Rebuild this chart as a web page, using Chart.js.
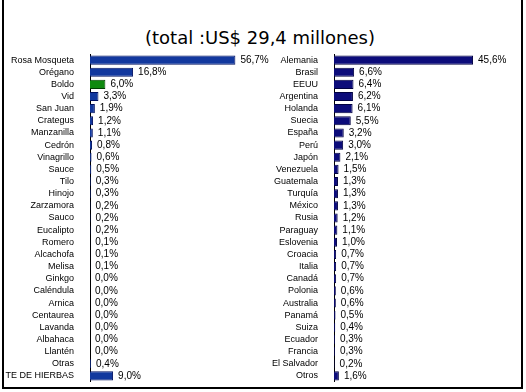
<!DOCTYPE html>
<html>
<head>
<meta charset="utf-8">
<script src="https://cdn.jsdelivr.net/npm/chart.js@4/dist/chart.umd.min.js"></script>
<style>
  body { margin: 0; background: #fff; }
  #frame { position: absolute; left: 2px; top: 0; width: 517px; height: 387px;
    border-left: 2px solid #000; border-right: 2px solid #000; border-bottom: 2px solid #000; }
  #title { position: absolute; left: 0; top: 27px; width: 520px; text-align: center;
    font: 18px "DejaVu Sans"; color: #000; }
  canvas { position: absolute; }
</style>
</head>
<body>
<div id="frame"></div>
<div id="title">(total :US$ 29,4 millones)</div>
<canvas id="herbChart" width="290" height="328" style="left:0;top:54px"></canvas>
<canvas id="countryChart" width="258" height="328" style="left:262px;top:54px"></canvas>
<script>
'use strict';

/* ---------- data ---------- */
let herbLabels = ['Rosa Mosqueta', 'Orégano', 'Boldo', 'Vid', 'San Juan', 'Crategus', 'Manzanilla',
  'Cedrón', 'Vinagrillo', 'Sauce', 'Tilo', 'Hinojo', 'Zarzamora', 'Sauco', 'Eucalipto', 'Romero',
  'Alcachofa', 'Melisa', 'Ginkgo', 'Caléndula', 'Arnica', 'Centaurea', 'Lavanda', 'Albahaca',
  'Llantén', 'Otras', 'TE DE HIERBAS'];
let herbValues = [56.7, 16.8, 6.0, 3.3, 1.9, 1.2, 1.1, 0.8, 0.6, 0.5, 0.3, 0.3, 0.2, 0.2, 0.2, 0.1,
  0.1, 0.1, 0.0, 0.0, 0.0, 0.0, 0.0, 0.0, 0.0, 0.4, 9.0];

let countryLabels = ['Alemania', 'Brasil', 'EEUU', 'Argentina', 'Holanda', 'Suecia', 'España', 'Perú',
  'Japón', 'Venezuela', 'Guatemala', 'Turquía', 'México', 'Rusia', 'Paraguay', 'Eslovenia', 'Croacia',
  'Italia', 'Canadá', 'Polonia', 'Australia', 'Panamá', 'Suiza', 'Ecuador', 'Francia', 'El Salvador', 'Otros'];
let countryValues = [45.6, 6.6, 6.4, 6.2, 6.1, 5.5, 3.2, 3.0, 2.1, 1.5, 1.3, 1.3, 1.3, 1.2, 1.1, 1.0, 0.7,
  0.7, 0.7, 0.6, 0.6, 0.5, 0.4, 0.3, 0.3, 0.2, 1.6];

let highlightHerb = 'Boldo'; //  the one green bar

/* ---------- helpers ---------- */
const tickFont = { family: 'Liberation Sans', size: 9 };
const valueFont = '10px "Liberation Sans"';

//  draws "56,7%" style labels just right of every bar
const valueLabels = {
  id: 'valueLabels',
  afterDatasetsDraw(chart) {
    const ctx = chart.ctx;
    const values = chart.data.datasets[0].data;
    ctx.save();
    ctx.font = valueFont;
    ctx.fillStyle = '#000';
    ctx.textAlign = 'left';
    ctx.textBaseline = 'middle';
    chart.getDatasetMeta(0).data.forEach((bar, i) => {
      ctx.fillText(values[i].toFixed(1).replace('.', ',') + '%', bar.x + 5, bar.y);
    });
    ctx.restore();
  }
};

function makeChart(canvasId, labels, values, colors, borderColor, axisWidth, xMax) {
  return new Chart(document.getElementById(canvasId), {
    type: 'bar',
    data: {
      labels: labels,
      datasets: [{
        data: values,
        backgroundColor: colors,
        borderColor: borderColor,
        borderWidth: 1,
        barPercentage: 0.75,
        categoryPercentage: 1
      }]
    },
    options: {
      indexAxis: 'y',
      responsive: false,
      animation: false,
      devicePixelRatio: 1,
      layout: { padding: 0 },
      plugins: { legend: { display: false }, tooltip: { enabled: false } },
      scales: {
        x: { display: false, min: 0, max: xMax },
        y: {
          grid: { display: false },
          border: { display: true, color: '#000', width: 1 },
          ticks: { color: '#000', font: tickFont, padding: 8, autoSkip: false },
          afterFit(scale) {
            scale.width = axisWidth;
            scale.paddingTop = 0;
            scale.paddingBottom = 0;
          }
        }
      }
    },
    plugins: [valueLabels]
  });
}

let herbColors = herbLabels.map(name => name === highlightHerb ? '#0f8a0f' : '#12389e');
let herbBorders = herbLabels.map(name => name === highlightHerb ? '#004000' : '#001060');
let countryColors = countryLabels.map(() => '#0c0c7a');

makeChart('herbChart', herbLabels, herbValues, herbColors, herbBorders, 90, 78);
makeChart('countryChart', countryLabels, countryValues, countryColors, '#000040', 72, 61);
</script>
</body>
</html>
